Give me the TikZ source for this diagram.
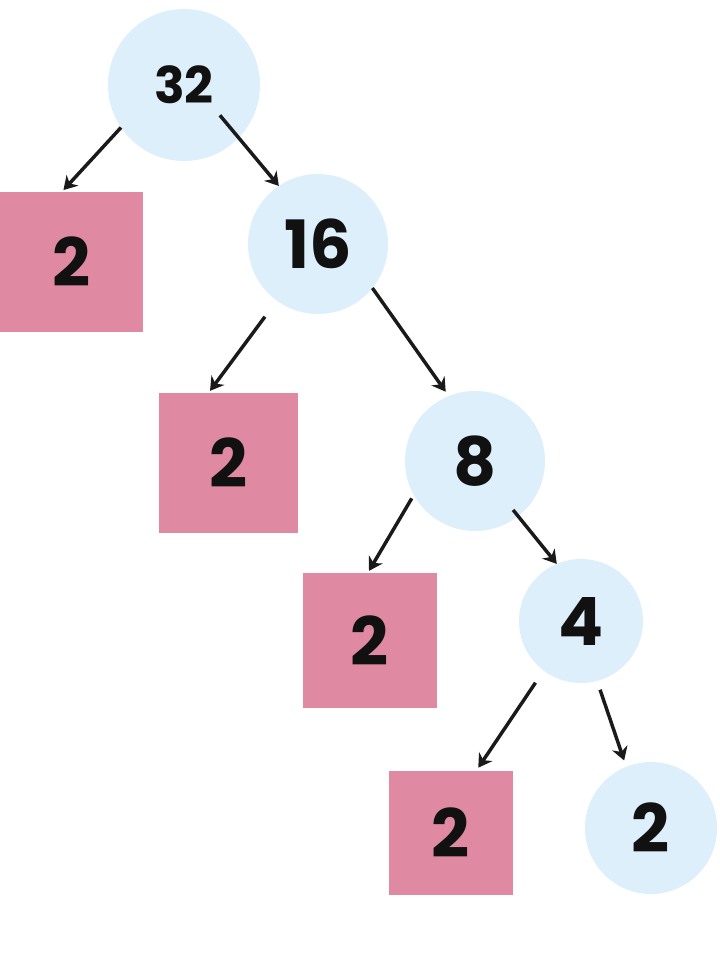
\documentclass[tikz,border=0pt]{standalone}
\usepackage{fontspec}
\setmainfont{Poppins}
\usepackage{xcolor}
\usetikzlibrary{arrows.meta}
\definecolor{factorblue}{RGB}{221,239,251}
\definecolor{primepink}{RGB}{224,137,163}
\tikzstyle{factor}=[
    circle,
    fill=factorblue,
    text={rgb,255:red,17;green,17;blue,17},
    inner sep=0pt,
    outer sep=0pt,
    font=\fontsize{50}{50}\selectfont\bfseries]
\tikzstyle{prime}=[
    rectangle,
    fill=primepink,
    text={rgb,255:red,17;green,17;blue,17},
    inner sep=0pt,
    outer sep=0pt,
    font=\fontsize{50}{50}\selectfont\bfseries]
\tikzstyle{split}=[
    -{Stealth[length=10pt,width=12pt]},
    line width=2.6pt,
    color={rgb,255:red,26;green,26;blue,26}]

\begin{document}
\begin{tikzpicture}[x=0.75pt,y=0.75pt,yscale=-1,xscale=1]
\useasboundingbox (0,0) rectangle (720,956);

%Shape: Circle
\node [factor, minimum size=114pt, font=\fontsize{38}{38}\selectfont\bfseries] (c32) at (184,85) {32};
%Shape: Square
\node [prime, minimum width=107pt, minimum height=105pt] (sq1) at (71.5,262) {2};
%Shape: Circle
\node [factor, minimum size=105pt] (c16) at (318,244) {16};
%Shape: Square
\node [prime, minimum width=104pt, minimum height=105pt] (sq2) at (228.5,463) {2};
%Shape: Circle
\node [factor, minimum size=105pt] (c8) at (475,461) {8};
%Shape: Square
\node [prime, minimum width=100.5pt, minimum height=101pt] (sq3) at (370,640.5) {2};
%Shape: Circle
\node [factor, minimum size=93pt] (c4) at (581,621) {4};
%Shape: Square
\node [prime, minimum size=93pt] (sq4) at (451,833) {2};
%Shape: Circle
\node [factor, minimum size=99pt] (c2) at (651,828) {2};

%Straight Lines
\draw [split, shorten >=2pt] (c32.214) -- (sq1.98);
%Straight Lines
\draw [split, shorten <=-22pt] (c32.316) -- (c16.124);
%Straight Lines
\draw [split, shorten <=15pt, shorten >=2pt] (c16.234) -- (sq2.106);
%Straight Lines
\draw [split, shorten >=4pt] (c16.321) -- (c8.112);
%Straight Lines
\draw [split, shorten <=3pt, shorten >=2pt] (c8.209) -- (sq3.92);
%Straight Lines
\draw [split, shorten <=-6pt] (c8.308) -- (c4.113);
%Straight Lines
\draw [split, shorten <=11pt, shorten >=3pt] (c4.233) -- (sq4.68);
%Straight Lines
\draw [split, shorten <=7pt, shorten >=5pt] (c4.285) -- (c2.112);

\end{tikzpicture}
\end{document}
